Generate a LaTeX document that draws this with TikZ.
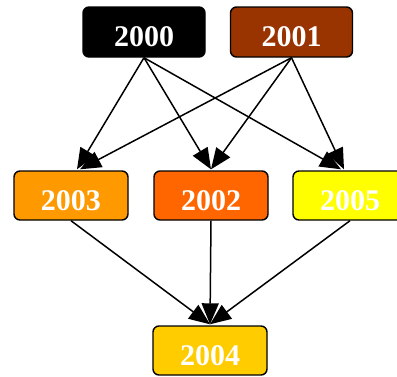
\documentclass[tikz,border=0pt]{standalone}
\usepackage{fontspec}
\setmainfont{Liberation Serif}
\usetikzlibrary{arrows.meta,calc}
\definecolor{c2000}{HTML}{000000}
\definecolor{c2001}{HTML}{993300}
\definecolor{c2002}{HTML}{FF6600}
\definecolor{c2003}{HTML}{FF9900}
\definecolor{c2004}{HTML}{FFCC00}
\definecolor{c2005}{HTML}{FFFF00}
\tikzset{
  yearbox/.style={draw=black, line width=1.4pt, rounded corners=6pt,
    minimum width=114pt, minimum height=49pt, inner sep=0pt,
    text height=29pt, text depth=0pt,
    text=white, font=\fontsize{30pt}{31pt}\selectfont\bfseries},
  widebox/.style={yearbox, minimum width=122pt, minimum height=50pt},
  link/.style={line width=1.5pt, -{Triangle[length=21pt,width=17pt]}}
}
\begin{document}
\begin{tikzpicture}[x=1pt,y=-1pt]
\useasboundingbox (0,0) rectangle (397,376);
\node[widebox, fill=c2000] (n2000) at (144,32) {2000};
\node[widebox, fill=c2001] (n2001) at (291.5,32) {2001};
\node[yearbox, fill=c2003] (n2003) at (71,195.5) {2003};
\node[yearbox, fill=c2002] (n2002) at (211,195.5) {2002};
\node[yearbox, fill=c2005] (n2005) at (350,195.5) {2005};
\node[yearbox, fill=c2004] (n2004) at (210,350.5) {2004};
\draw[link] (n2000.south) -- ($(n2003.north)+(6,-1)$);
\draw[link] (n2001.south) -- ($(n2003.north)+(9,-1)$);
\draw[link] (n2000.south) -- ($(n2002.north)+(0,-1)$);
\draw[link] (n2001.south) -- ($(n2002.north)+(0,-1)$);
\draw[link] (n2000.south) -- ($(n2005.north)+(-9,-1)$);
\draw[link] (n2001.south) -- ($(n2005.north)+(-6,-1)$);
\draw[link] (n2003.south) -- ($(n2004.north)+(0,-1)$);
\draw[link] (n2002.south) -- ($(n2004.north)+(0,-1)$);
\draw[link] (n2005.south) -- ($(n2004.north)+(0,-1)$);
\end{tikzpicture}
\end{document}
